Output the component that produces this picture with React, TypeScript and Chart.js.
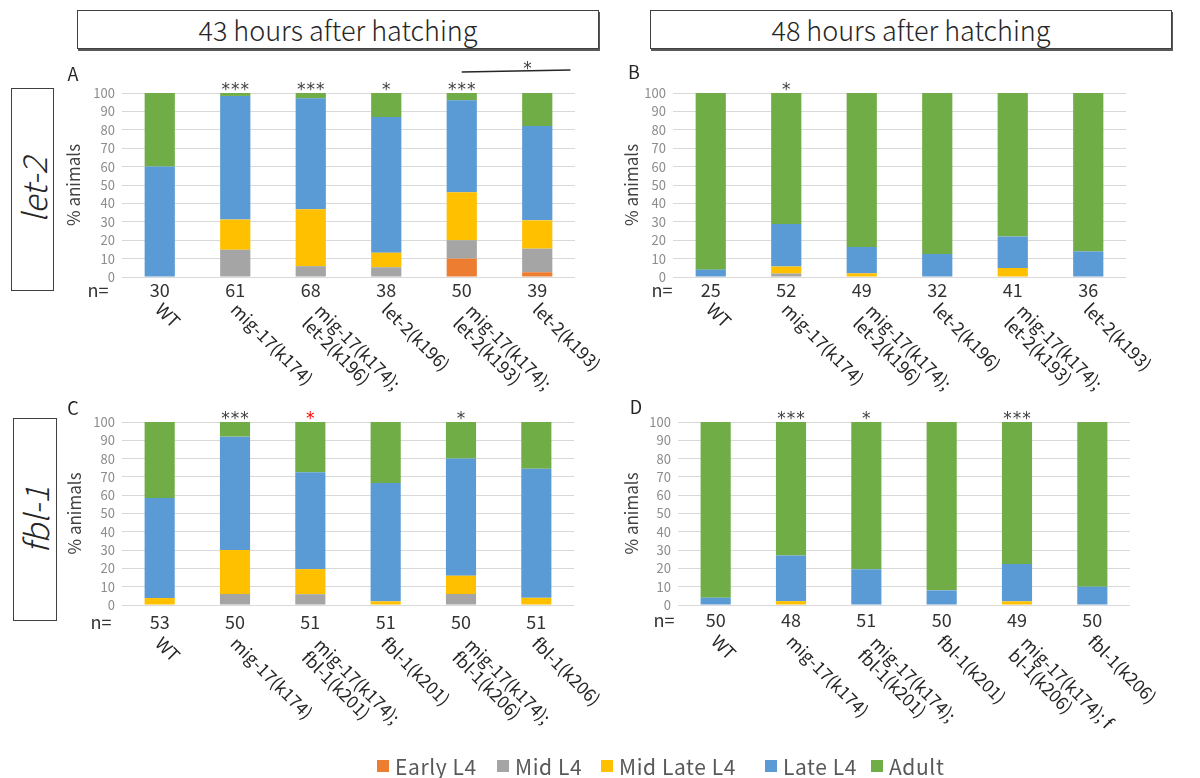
import React, { useEffect, useRef } from "react";
import { Chart, registerables } from "chart.js";

Chart.register(...registerables);

const FONT = '"Noto Sans CJK JP", "Noto Sans", sans-serif';
const STAR_FONT = '"DejaVu Sans", sans-serif';

// ---- series ----
const seriesNames = ["Early L4", "Mid L4", "Mid Late L4", "Late L4", "Adult"];
const seriesColors = ["#ED7D31", "#A5A5A5", "#FFC000", "#5B9BD5", "#70AD47"];

// ---- category labels ----
const labelsLet2 = [
  ["WT"],
  ["mig-17(k174)"],
  ["mig-17(k174);", "let-2(k196)"],
  ["let-2(k196)"],
  ["mig-17(k174);", "let-2(k193)"],
  ["let-2(k193)"],
];
const labelsFbl1C = [
  ["WT"],
  ["mig-17(k174)"],
  ["mig-17(k174);", "fbl-1(k201)"],
  ["fbl-1(k201)"],
  ["mig-17(k174);", "fbl-1(k206)"],
  ["fbl-1(k206)"],
];
const labelsFbl1D = [
  ["WT"],
  ["mig-17(k174)"],
  ["mig-17(k174);", "fbl-1(k201)"],
  ["fbl-1(k201)"],
  ["mig-17(k174); f", "bl-1(k206)"],
  ["fbl-1(k206)"],
];

// ---- n values ----
const nA = [30, 61, 68, 38, 50, 39];
const nB = [25, 52, 49, 32, 41, 36];
const nC = [53, 50, 51, 51, 50, 51];
const nD = [50, 48, 51, 50, 49, 50];

// ---- panel A: let-2, 43 h ----
const earlyA = [0, 0, 0, 0, 10, 2.6];
const midA = [0, 14.8, 5.9, 5.3, 10, 12.8];
const midLateA = [0, 16.4, 30.9, 7.9, 26, 15.4];
const lateA = [60, 67.2, 60.3, 73.7, 50, 51.3];
const adultA = [40, 1.6, 2.9, 13.2, 4, 17.9];

// ---- panel B: let-2, 48 h ----
const earlyB = [0, 0, 0, 0, 0, 0];
const midB = [0, 1.9, 0, 0, 0, 0];
const midLateB = [0, 3.8, 2.0, 0, 4.9, 0];
const lateB = [4, 23.1, 14.3, 12.5, 17.1, 13.9];
const adultB = [96, 71.2, 83.7, 87.5, 78.0, 86.1];

// ---- panel C: fbl-1, 43 h ----
const earlyC = [0, 0, 0, 0, 0, 0];
const midC = [0, 6, 5.9, 0, 6, 0];
const midLateC = [3.8, 24, 13.7, 2.0, 10, 3.9];
const lateC = [54.7, 62, 52.9, 64.7, 64, 70.6];
const adultC = [41.5, 8, 27.5, 33.3, 20, 25.5];

// ---- panel D: fbl-1, 48 h ----
const earlyD = [0, 0, 0, 0, 0, 0];
const midD = [0, 0, 0, 0, 0, 0];
const midLateD = [0, 2.1, 0, 0, 2.0, 0];
const lateD = [4, 25, 19.6, 8, 20.4, 10];
const adultD = [96, 72.9, 80.4, 92, 77.6, 90];

// ---- significance marks ----
const starsA = ["", "***", "***", "*", "***", ""];
const starsB = ["", "*", "", "", "", ""];
const starsC = ["", "***", "*", "", "*", ""];
const starColorsC = ["#404040", "#404040", "#FF0000", "#404040", "#404040", "#404040"];
const starsD = ["", "***", "*", "", "***", ""];

const yMax = 100;
const yStep = 10;

type Panel = {
  letter: string;
  L: number; T: number; W: number; H: number;
  cl: number; cr: number; ct: number; cb: number;
  titleX: number;
  letterX: number; letterY: number;
  nX: number; nY: number; labelY: number;
  labels: string[][];
  n: number[];
  values: number[][];
  stars: string[];
  starColors?: string[];
  bracket?: { from: number; to: number; star: number };
};

const panels: Panel[] = [
  {
    letter: "A", L: 0, T: 50, W: 640, H: 370,
    cl: 122, cr: 575, ct: 93, cb: 277, titleX: 74,
    letterX: 73, letterY: 74, nX: 98, nY: 290, labelY: 306,
    labels: labelsLet2, n: nA,
    values: [earlyA, midA, midLateA, lateA, adultA],
    stars: starsA,
    bracket: { from: 4.0, to: 5.44, star: 4.87 },
  },
  {
    letter: "B", L: 590, T: 50, W: 610, H: 370,
    cl: 673, cr: 1126, ct: 93, cb: 277, titleX: 632,
    letterX: 634, letterY: 72, nX: 662, nY: 290, labelY: 306,
    labels: labelsLet2, n: nB,
    values: [earlyB, midB, midLateB, lateB, adultB],
    stars: starsB,
  },
  {
    letter: "C", L: 0, T: 390, W: 640, H: 370,
    cl: 122, cr: 574, ct: 422, cb: 605, titleX: 75,
    letterX: 73, letterY: 408, nX: 101, nY: 622, labelY: 640,
    labels: labelsFbl1C, n: nC,
    values: [earlyC, midC, midLateC, lateC, adultC],
    stars: starsC, starColors: starColorsC,
  },
  {
    letter: "D", L: 590, T: 390, W: 610, H: 370,
    cl: 678, cr: 1130, ct: 422, cb: 605, titleX: 632,
    letterX: 636, letterY: 407, nX: 664, nY: 620, labelY: 638,
    labels: labelsFbl1D, n: nD,
    values: [earlyD, midD, midLateD, lateD, adultD],
    stars: starsD,
  },
];

function overlay(p: Panel) {
  return {
    id: "overlay" + p.letter,
    afterDraw(chart: any) {
      const ctx = chart.ctx as CanvasRenderingContext2D;
      const xs = chart.scales.x;
      const ys = chart.scales.y;
      const top = ys.getPixelForValue(yMax);
      ctx.save();
      // panel letter
      ctx.fillStyle = "#262626";
      ctx.font = `18px ${FONT}`;
      ctx.textAlign = "center";
      ctx.textBaseline = "middle";
      ctx.fillText(p.letter, p.letterX - p.L, p.letterY - p.T);

      // stars
      ctx.font = `17px ${STAR_FONT}`;
      ctx.textBaseline = "alphabetic";
      p.stars.forEach((s, i) => {
        if (!s) return;
        const cx = xs.getPixelForValue(i);
        ctx.fillStyle = p.starColors ? p.starColors[i] : "#404040";
        const k = s.length;
        for (let j = 0; j < k; j++) {
          ctx.fillText("*", cx + (j - (k - 1) / 2) * 9.5, top + 2);
        }
      });

      // bracket
      if (p.bracket) {
        const x1 = xs.getPixelForValue(p.bracket.from);
        const x2 = xs.getPixelForValue(p.bracket.to);
        ctx.strokeStyle = "#262626";
        ctx.lineWidth = 1.3;
        ctx.beginPath();
        ctx.moveTo(x1, 72 - p.T);
        ctx.lineTo(x2, 70 - p.T);
        ctx.stroke();
        ctx.fillStyle = "#404040";
        ctx.fillText("*", xs.getPixelForValue(p.bracket.star), 74 - p.T);
      }

      // n row
      ctx.textBaseline = "middle";
      ctx.fillStyle = "#333333";
      ctx.font = `18px ${FONT}`;
      ctx.fillText("n=", p.nX - p.L, p.nY - p.T);
      p.n.forEach((v, i) => {
        ctx.fillText(String(v), xs.getPixelForValue(i), p.nY - p.T);
      });

      // rotated category labels
      ctx.font = `17.5px ${FONT}`;
      ctx.fillStyle = "#262626";
      ctx.textAlign = "left";
      ctx.textBaseline = "middle";
      const lh = 18;
      p.labels.forEach((lines, i) => {
        const cx = xs.getPixelForValue(i);
        const multi = lines.length > 1;
        ctx.save();
        ctx.translate(cx - 1, p.labelY - p.T);
        ctx.rotate(Math.PI / 4);
        lines.forEach((ln, j) => {
          const yOff = multi ? (j - (lines.length - 1) / 2) * lh + 4 : 0;
          ctx.fillText(ln, multi ? 7 : 0, yOff);
        });
        ctx.restore();
      });
      ctx.restore();
    },
  };
}

function PanelChart({ p }: { p: Panel }) {
  const ref = useRef<HTMLCanvasElement | null>(null);
  useEffect(() => {
    if (!ref.current) return;
    const titleLH = 17 * 1.2;
    const scaleLeft = p.titleX - titleLH / 2;
    const padL = scaleLeft - p.L;
    const yW = p.cl - scaleLeft;
    const chart = new Chart(ref.current, {
      type: "bar",
      data: {
        labels: p.labels.map((l) => l.join(" ")),
        datasets: seriesNames.map((name, k) => ({
          label: name,
          data: p.values[k],
          backgroundColor: seriesColors[k],
          borderWidth: 0,
          categoryPercentage: 1,
          barPercentage: 0.4,
        })),
      },
      options: {
        responsive: false,
        animation: false,
        devicePixelRatio: 1,
        layout: {
          padding: {
            left: padL,
            top: p.ct - p.T,
            right: p.L + p.W - p.cr,
            bottom: p.T + p.H - p.cb,
          },
        },
        plugins: { legend: { display: false }, tooltip: { enabled: false } },
        scales: {
          x: { stacked: true, display: false, offset: true },
          y: {
            stacked: true,
            min: 0,
            max: yMax,
            ticks: {
              stepSize: yStep,
              autoSkip: false,
              color: "#8c8c8c",
              font: { family: FONT, size: 13 },
              padding: 7,
            },
            grid: { color: "#d9d9d9", drawTicks: false, lineWidth: 1 },
            border: { display: false },
            title: {
              display: true,
              text: "% animals",
              color: "#404040",
              font: { family: FONT, size: 17 },
              padding: { top: 0, bottom: 0 },
            },
            afterFit: (s: any) => {
              s.width = yW;
            },
          },
        },
      },
      plugins: [overlay(p)],
    } as any);
    return () => chart.destroy();
  }, [p]);
  return (
    <canvas
      ref={ref}
      width={p.W}
      height={p.H}
      style={{ position: "absolute", left: p.L, top: p.T, width: p.W, height: p.H }}
    />
  );
}

const headerBox: React.CSSProperties = {
  position: "absolute",
  top: 10,
  height: 39,
  border: "1px solid #404040",
  boxShadow: "1px 2px 0 #595959",
  display: "flex",
  alignItems: "center",
  justifyContent: "center",
  fontFamily: FONT,
  fontSize: 27,
  fontWeight: 300,
  color: "#262626",
  background: "#fff",
  boxSizing: "border-box",
};

const sideBox: React.CSSProperties = {
  position: "absolute",
  border: "1.5px solid #404040",
  boxSizing: "border-box",
  fontFamily: FONT,
  fontStyle: "italic",
  fontWeight: 300,
  fontSize: 33,
  color: "#262626",
  background: "#fff",
};

const legendX = [377, 497, 601, 765, 871];

export default function App() {
  return (
    <div
      style={{
        position: "absolute",
        left: 0,
        top: 0,
        width: 1200,
        height: 778,
        background: "#fff",
        overflow: "hidden",
      }}
    >
      <div style={{ ...headerBox, left: 77, width: 522 }}>43 hours after hatching</div>
      <div style={{ ...headerBox, left: 650, width: 522 }}>48 hours after hatching</div>

      <div style={{ ...sideBox, left: 11, top: 88, width: 43, height: 203 }}>
        <div
          style={{
            position: "absolute",
            left: "50%",
            top: "50%",
            transform: "translate(-50%, -50%) rotate(-90deg)",
            whiteSpace: "nowrap",
          }}
        >
          let-2
        </div>
      </div>
      <div style={{ ...sideBox, left: 13, top: 418, width: 44, height: 203 }}>
        <div
          style={{
            position: "absolute",
            left: "50%",
            top: "50%",
            transform: "translate(-50%, -50%) rotate(-90deg)",
            whiteSpace: "nowrap",
          }}
        >
          fbl-1
        </div>
      </div>

      {panels.map((p) => (
        <PanelChart key={p.letter} p={p} />
      ))}

      {seriesNames.map((name, k) => (
        <div
          key={name}
          style={{
            position: "absolute",
            left: legendX[k],
            top: 755,
            height: 22,
            display: "flex",
            alignItems: "center",
            fontFamily: FONT,
            fontSize: 21,
            letterSpacing: 0.6,
            color: "#595959",
            whiteSpace: "nowrap",
          }}
        >
          <span
            style={{
              display: "inline-block",
              width: 12,
              height: 12,
              background: seriesColors[k],
              marginRight: 6,
            }}
          />
          {name}
        </div>
      ))}
    </div>
  );
}
